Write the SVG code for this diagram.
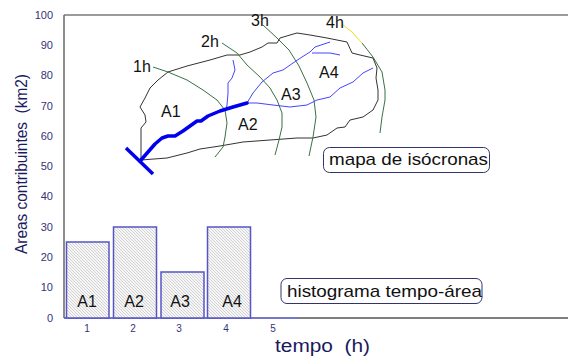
<svg xmlns="http://www.w3.org/2000/svg" width="568" height="358" viewBox="0 0 568 358">
<defs>
<pattern id="hatch" width="3" height="3" patternUnits="userSpaceOnUse">
<rect width="3" height="3" fill="#f6f6f6"/>
<path d="M-1,-1 L4,4 M-1,2 L1,4 M2,-1 L4,1" stroke="#c9c9c9" stroke-width="0.8"/>
</pattern>
<style>
.tick{font-family:"Liberation Sans",Arial,sans-serif;font-size:11px;fill:#33337a;text-anchor:end}
.xtick{font-family:"Liberation Sans",Arial,sans-serif;font-size:10px;fill:#33337a;text-anchor:middle}
.title{font-family:"Liberation Sans",Arial,sans-serif;fill:#1a1a5e}
.lbl{font-family:"Liberation Sans",Arial,sans-serif;font-size:16px;fill:#111}
.box{fill:#fff;stroke:#33336e;stroke-width:1}
.boxtxt{font-family:"Liberation Sans",Arial,sans-serif;font-size:17px;fill:#111}
.bar{fill:url(#hatch);stroke:#5555c8;stroke-width:1.5}
.iso{fill:none;stroke:#3a7044;stroke-width:1}
.outline{fill:none;stroke:#333;stroke-width:1}
.stream{fill:none;stroke:#4545ff;stroke-width:1}
</style>
</defs>
<rect width="568" height="358" fill="#fff"/>

<g id="axes">
<line x1="64" y1="15" x2="568" y2="15" stroke="#7a7a7a" stroke-width="1.5"/>
<line x1="64" y1="15" x2="64" y2="318" stroke="#666" stroke-width="1.5"/>
<line x1="298" y1="318" x2="568" y2="318" stroke="#555" stroke-width="1.5"/>
<line x1="64" y1="318" x2="298" y2="318" stroke="#4a4ac0" stroke-width="1.5"/>
<text class="tick" x="53" y="19">100</text>
<text class="tick" x="53" y="49">90</text>
<text class="tick" x="53" y="79">80</text>
<text class="tick" x="53" y="110">70</text>
<text class="tick" x="53" y="140">60</text>
<text class="tick" x="53" y="170">50</text>
<text class="tick" x="53" y="200">40</text>
<text class="tick" x="53" y="231">30</text>
<text class="tick" x="53" y="261">20</text>
<text class="tick" x="53" y="291">10</text>
<text class="tick" x="53" y="322">0</text>
<text class="xtick" x="87" y="332">1</text>
<text class="xtick" x="133" y="332">2</text>
<text class="xtick" x="179" y="332">3</text>
<text class="xtick" x="226" y="332">4</text>
<text class="xtick" x="273" y="332">5</text>
<text class="title" xml:space="preserve" x="275" y="352" font-size="18" textLength="95" lengthAdjust="spacingAndGlyphs">tempo  (h)</text>
<text class="title" xml:space="preserve" transform="translate(27,164) rotate(-90)" text-anchor="middle" font-size="16" textLength="180" lengthAdjust="spacingAndGlyphs">Areas contribuintes  (km2)</text>
</g>

<g id="map">
<path class="outline" d="M141,160 L141,128 L146,122 L145,115 L140,107 L145,98 L150,88 L158,80 L168,72 L187,66 L210,60 L227,55 L240,55 L250,52 L262,47 L268,43 L277,43 L280,38 L290,35 L297,33 L310,35 L327,38 L347,42 L352,53 L360,55 L373,58 L377,68 L376,78 L378,90 L378,100 L373,110 L363,117 L350,120 L345,127 L337,128 L327,135 L313,138 L297,138 L270,140 L243,142 L220,146 L200,149 L187,153 L167,158 Z"/>
<path class="iso" d="M153,67 L168,72 L187,80 L203,90 L217,100 L225,110 L227,123 L225,137 L223,147 L215,157"/>
<path class="iso" d="M222,43 L237,53 L247,65 L260,77 L270,88 L277,100 L282,113 L282,127 L279,140 L275,155"/>
<path class="iso" d="M263,25 L277,38 L289,50 L299,66 L307,83 L314,100 L316,117 L313,137 L309,156"/>
<path fill="none" stroke="#e8e020" stroke-width="1" d="M343,25 L352,32 L362,43"/>
<path class="iso" d="M362,43 L373,57 L382,72 L385,90 L385,100 L382,117 L380,133"/>
<path class="stream" d="M226,110 L227,105 L228,93 L228,83 L232,78 L235,70 L233,60"/>
<path class="stream" d="M247,103 L253,93 L262,82 L273,73 L283,70 L293,63 L302,57 L310,52 L315,47 L330,42"/>
<path class="stream" d="M312,53 L323,53 L330,53 L340,55"/>
<path class="stream" d="M247,103 L257,103 L273,105 L290,107 L307,105 L317,100 L330,97 L340,88 L353,82 L363,73 L373,68"/>
<path fill="none" stroke="#0000ee" stroke-width="3.5" stroke-linejoin="round" stroke-linecap="round" d="M141,160 L148,152 L155,144 L162,138 L168,136 L175,136 L183,131 L190,126 L197,121 L201,121 L208,116 L220,111 L233,107 L247,103"/>
<line x1="126" y1="148" x2="153" y2="174" stroke="#0000ee" stroke-width="3.5"/>
<text class="lbl" x="133" y="72">1h</text>
<text class="lbl" x="201" y="47">2h</text>
<text class="lbl" x="251" y="26">3h</text>
<text class="lbl" x="326" y="28">4h</text>
<text class="lbl" x="161" y="117">A1</text>
<text class="lbl" x="238" y="130">A2</text>
<text class="lbl" x="281" y="100">A3</text>
<text class="lbl" x="319" y="78">A4</text>
</g>

<g id="bar1"><rect class="bar" x="66.5" y="242" width="42.5" height="76"/><text class="lbl" x="87" y="307" text-anchor="middle">A1</text></g>
<g id="bar2"><rect class="bar" x="113.5" y="227" width="43" height="91"/><text class="lbl" x="134" y="307" text-anchor="middle">A2</text></g>
<g id="bar3"><rect class="bar" x="161" y="272" width="43" height="46"/><text class="lbl" x="180" y="307" text-anchor="middle">A3</text></g>
<g id="bar4"><rect class="bar" x="207.5" y="227" width="43" height="91"/><text class="lbl" x="232" y="307" text-anchor="middle">A4</text></g>

<g id="label-map">
<rect class="box" x="323.5" y="147.5" width="166" height="25" rx="6"/>
<text class="boxtxt" x="329" y="165" textLength="159" lengthAdjust="spacingAndGlyphs">mapa de isócronas</text>
</g>
<g id="label-hist">
<rect class="box" x="281" y="278.5" width="201" height="25" rx="6"/>
<text class="boxtxt" x="287" y="297" textLength="195" lengthAdjust="spacingAndGlyphs">histograma tempo-área</text>
</g>
</svg>
